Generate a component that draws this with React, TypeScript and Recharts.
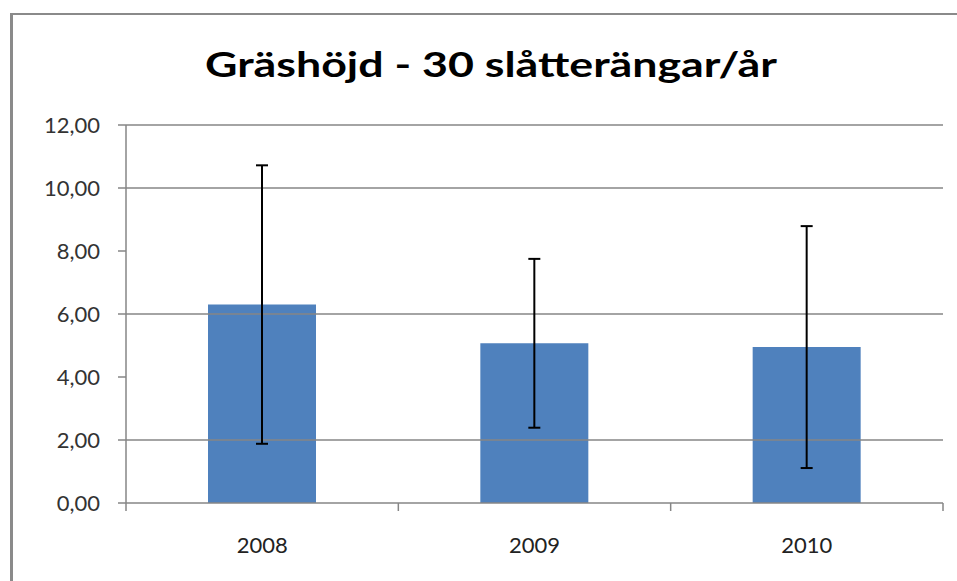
import {
  BarChart,
  Bar,
  XAxis,
  YAxis,
  ErrorBar,
  ReferenceLine,
} from 'recharts'

const years = ['2008', '2009', '2010']
const means = [6.3, 5.07, 4.95]
const deviations = [4.42, 2.68, 3.84]
const yTicks = [0, 2, 4, 6, 8, 10, 12]
const gridValues = [2, 6, 10, 12]

const data = years.map((year, i) => ({ year, value: means[i], err: deviations[i] }))

const AXIS = '#868686'
const FONT = 'Lato, "Open Sans", sans-serif'
const TICK_SIZE = 8
const TICK_MARGIN = 26

const fmt = (v: number) => v.toFixed(2).replace('.', ',')

// Excel draws the category ticks between the bars, not under them
function YearTick(props: any) {
  const { x, y, payload, index, visibleTicksCount } = props
  const half = payload?.offset ?? 0
  const top = y - TICK_MARGIN - TICK_SIZE
  const bottom = y - TICK_MARGIN
  const last = index === visibleTicksCount - 1
  return (
    <g>
      {half > 0 && <line x1={x - half} x2={x - half} y1={top} y2={bottom} stroke={AXIS} strokeWidth={1.5} />}
      {half > 0 && last && <line x1={x + half} x2={x + half} y1={top} y2={bottom} stroke={AXIS} strokeWidth={1.5} />}
      <text x={x} y={y} dy='0.71em' textAnchor='middle' fill='#222' fontSize={22} fontFamily={FONT}>
        {payload.value}
      </text>
    </g>
  )
}

export default function App() {
  return (
    <div style={{ position: 'absolute', left: 0, top: 0, width: 957, height: 581, background: '#fff', overflow: 'hidden' }}>
      <div
        style={{
          position: 'absolute',
          left: 10,
          top: 13,
          width: 1000,
          height: 600,
          borderTop: '2px solid #8a8a8a',
          borderLeft: '3px solid #8a8a8a',
        }}
      />
      <svg width={957} height={100} style={{ position: 'absolute', left: 0, top: 0 }}>
        <text
          x={491}
          y={77}
          textAnchor='middle'
          fontFamily={FONT}
          fontWeight={700}
          fontSize={34}
          fill='#000'
          textLength={572}
          lengthAdjust='spacingAndGlyphs'
        >
          Gräshöjd - 30 slåtterängar/år
        </text>
      </svg>
      <div style={{ position: 'absolute', left: 0, top: 0 }}>
        <BarChart width={957} height={581} data={data} margin={{ top: 125, right: 14, bottom: 18, left: 0 }}>
          {gridValues.map((v) => (
            <ReferenceLine key={v} y={v} stroke={AXIS} strokeWidth={1.5} />
          ))}
          <XAxis
            dataKey='year'
            height={60}
            axisLine={{ stroke: AXIS, strokeWidth: 1.5 }}
            tickSize={TICK_SIZE}
            tickLine={{ stroke: 'none' }}
            tickMargin={TICK_MARGIN}
            tick={<YearTick />}
          />
          <YAxis
            width={126}
            domain={[0, 12]}
            ticks={yTicks}
            interval={0}
            tickFormatter={fmt}
            axisLine={{ stroke: AXIS, strokeWidth: 1.5 }}
            tickSize={8}
            tickLine={{ stroke: AXIS, strokeWidth: 1.5 }}
            tickMargin={18}
            tick={{ fill: '#333', fontSize: 22, fontFamily: FONT }}
          />
          <Bar dataKey='value' fill='#4F81BD' barSize={108} isAnimationActive={false}>
            <ErrorBar dataKey='err' width={6} stroke='#000' strokeWidth={2} isAnimationActive={false} />
          </Bar>
        </BarChart>
      </div>
    </div>
  )
}
